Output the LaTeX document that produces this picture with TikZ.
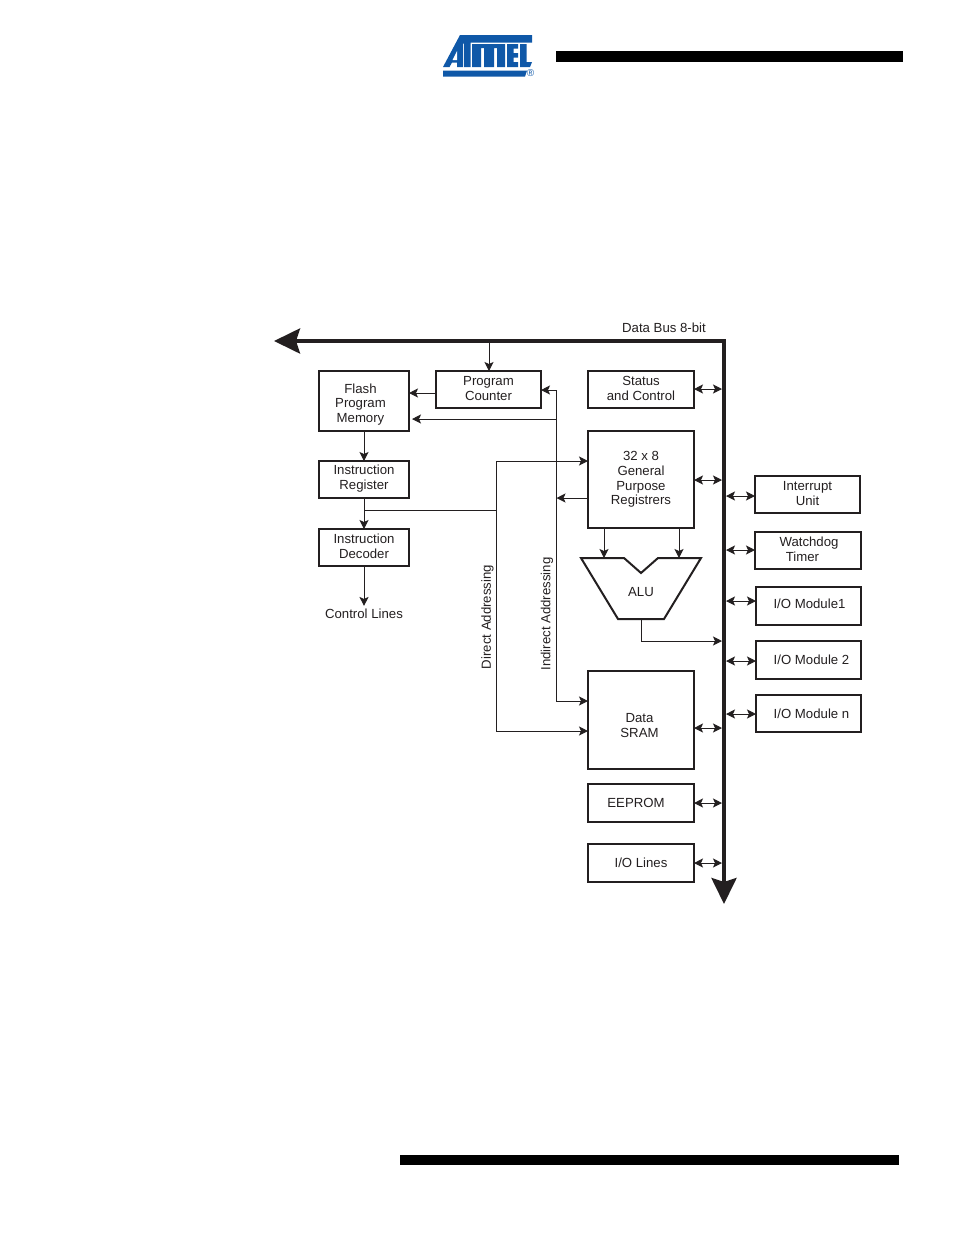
\documentclass[tikz,border=0pt]{standalone}
\usepackage{fontspec}
\setmainfont{Liberation Sans}
\usepackage{xcolor}
\usetikzlibrary{arrows.meta}
\definecolor{ink}{HTML}{231F20}
\definecolor{atmel}{HTML}{0F58A8}
\newcommand{\lift}[1]{\rule[-#1]{0pt}{0pt}}
\newcommand{\drop}[1]{\rule{0pt}{#1}}
\tikzset{
  box/.style={draw=ink, line width=2pt, outer sep=0pt, inner sep=0pt, align=center, text=ink, font=\fontsize{13.2}{14.7}\selectfont},
  lab/.style={text=ink, inner sep=0pt, align=center, font=\fontsize{13.2}{14.7}\selectfont},
  wire/.style={draw=ink, line width=1pt, -{Stealth[length=9pt,width=9pt,inset=2pt]}},
  both/.style={draw=ink, line width=1pt, {Stealth[length=9pt,width=9pt,inset=2pt]}-{Stealth[length=9pt,width=9pt,inset=2pt]}},
  plain/.style={draw=ink, line width=1pt},
  bus/.style={draw=ink, line width=4pt, -{Stealth[length=26pt,width=25pt,inset=4pt]}},
  logo/.style={fill=atmel, draw=none},
}
\begin{document}
\begin{tikzpicture}[x=1pt,y=-1pt]
\useasboundingbox (0,0) rectangle (954,1235);
% header and footer rules
\fill[black] (556,51) rectangle (903,62);
\fill[black] (400,1155) rectangle (899,1165);
% logo
\fill[logo] (460,35) -- (532,35) -- (532,42.5) -- (470.5,42.5) -- (470.5,67) -- (464,67) -- (464,43.5) -- (463,43.5) -- (463,67) -- (457,67) -- (457,62.5) -- (452,62.5) -- (449.5,67) -- (443,67) -- cycle;
\fill[white] (452.5,60) -- (457,60) -- (457,51) -- cycle;
\fill[logo] (472,44) -- (505,44) -- (505,67) -- (497,67) -- (497,48) -- (494,48) -- (494,67) -- (484,67) -- (484,48) -- (481,48) -- (481,67) -- (472,67) -- cycle;
\fill[logo] (507,44) -- (518,44) -- (518,48.5) -- (513.5,48.5) -- (513.5,53) -- (518,53) -- (518,57.5) -- (513.5,57.5) -- (513.5,62) -- (518,62) -- (518,67) -- (507,67) -- cycle;
\fill[logo] (520,44) -- (526.5,44) -- (526.5,62) -- (532,62) -- (530,67) -- (520,67) -- cycle;
\fill[logo] (443,70.5) -- (527,70.5) -- (525,76.5) -- (443,76.5) -- cycle;
\node[text=atmel, inner sep=0pt, font=\fontsize{10}{10}\selectfont] (regmark) at (530.5,73) {®};
% main bus
\draw[bus] (724,341) -- (274,341);
\draw[bus] (724,339) -- (724,904);
\node[lab] (buslab) at (664,328) {Data Bus 8-bit};
% left column
\node[box, minimum width=90pt, minimum height=60pt] (flash) at (364,401) {\drop{16.5pt}Flash\kern7pt\\Program\kern7pt\\Memory\kern7pt};
\node[box, minimum width=105pt, minimum height=37pt] (pc) at (488.5,389.5) {Program\\Counter\lift{2.2pt}};
\node[box, minimum width=90pt, minimum height=37pt] (ir) at (364,479.5) {Instruction\\Register\lift{4.8pt}};
\node[box, minimum width=90pt, minimum height=37pt] (decoder) at (364,547.5) {Instruction\\Decoder\lift{2.2pt}};
\node[lab] (ctrl) at (364,614) {Control Lines};
% middle column
\node[box, minimum width=106pt, minimum height=37pt] (status) at (641,389.5) {Status\\and Control\lift{2.2pt}};
\node[box, minimum width=106pt, minimum height=97pt] (gpr) at (641,479.5) {32 x 8\\General\\Purpose\\Registrers};
\draw[box, line join=miter] (581,558) -- (624,558) -- (641,573) -- (658,558) -- (701,558) -- (664,619) -- (618,619) -- cycle;
\node[lab] (alu) at (641,592) {ALU};
\node[box, minimum width=106pt, minimum height=98pt] (sram) at (641,720) {\drop{19.5pt}Data\kern3pt\\SRAM\kern3pt};
\node[box, minimum width=106pt, minimum height=38pt] (eeprom) at (641,803) {EEPROM\kern10pt};
\node[box, minimum width=106pt, minimum height=38pt] (iolines) at (641,863) {I/O Lines};
% right column
\node[box, minimum width=105pt, minimum height=37pt] (interrupt) at (807.5,494.5) {Interrupt\\Unit\lift{2.2pt}};
\node[box, minimum width=106pt, minimum height=37pt] (watchdog) at (808,550.5) {\kern2pt Watchdog\\Timer\kern11pt\lift{2.2pt}};
\node[box, minimum width=105pt, minimum height=38pt] (iomodA) at (808.5,606) {\kern2pt I/O Module1\lift{4pt}};
\node[box, minimum width=105pt, minimum height=38pt] (iomodB) at (808.5,660) {\kern6pt I/O Module 2};
\node[box, minimum width=105pt, minimum height=37pt] (iomodN) at (808.5,713.5) {\kern6pt I/O Module n};
% addressing labels
\node[lab, rotate=90] (direct) at (487.5,617) {Direct Addressing};
\node[lab, rotate=90] (indirect) at (547,614) {Indirect Addressing};
% junctions
\coordinate (pctap) at (489,341);
\coordinate (irtap) at (365,510);
\coordinate (dirtap) at (496.5,510);
\coordinate (dirtop) at (496.5,461);
\coordinate (dirbot) at (496.5,731);
\coordinate (indtop) at (556.5,390);
\coordinate (indbot) at (556.5,701);
\coordinate (indflash) at (556.5,419);
\coordinate (indgpr) at (556.5,498);
\coordinate (aluL) at (604,558);
\coordinate (aluR) at (679,558);
\coordinate (aluout) at (641,619);
\coordinate (alubus) at (722,641);
% control path
\draw[wire] (pctap) -- (pctap |- pc.north);
\draw[wire] ([yshift=-3.5pt]pc.west) -- ([yshift=-3.5pt]pc.west -| flash.east);
\draw[wire] (flash.south) -- (ir.north);
\draw[wire] (ir.south) -- (decoder.north);
\draw[wire] (decoder.south) -- ([yshift=3pt]ctrl.north);
\draw[plain] (irtap) -- (dirtap);
% direct addressing
\draw[wire] (dirbot) -- (dirtop) -- (dirtop -| gpr.west);
\draw[wire] (dirtop) -- (dirbot) -- (dirbot -| sram.west);
% indirect addressing
\draw[wire] (indbot) -- (indtop) -- (indtop -| pc.east);
\draw[wire] (indtop) -- (indbot) -- (indbot -| sram.west);
\draw[wire] (indflash) -- ([xshift=3pt]indflash -| flash.east);
\draw[wire] (indgpr -| gpr.west) -- (indgpr);
% alu
\draw[wire] (aluL |- gpr.south) -- (aluL);
\draw[wire] (aluR |- gpr.south) -- (aluR);
\draw[wire] (aluout) -- (aluout |- alubus) -- (alubus);
% bus taps
\coordinate (tapstatus) at (722,389);
\coordinate (tapgpr) at (722,480);
\coordinate (tapsram) at (722,728);
\coordinate (tapeeprom) at (722,803);
\coordinate (tapio) at (722,863);
\coordinate (tapint) at (726,496);
\coordinate (tapdog) at (726,550);
\coordinate (tapA) at (726,601);
\coordinate (tapB) at (726,661);
\coordinate (tapN) at (726,714);
\draw[both] (status.east |- tapstatus) -- (tapstatus);
\draw[both] (gpr.east |- tapgpr) -- (tapgpr);
\draw[both] (sram.east |- tapsram) -- (tapsram);
\draw[both] (eeprom.east |- tapeeprom) -- (tapeeprom);
\draw[both] (iolines.east |- tapio) -- (tapio);
\draw[both] (tapint) -- (tapint -| interrupt.west);
\draw[both] (tapdog) -- (tapdog -| watchdog.west);
\draw[both] (tapA) -- (tapA -| iomodA.west);
\draw[both] (tapB) -- (tapB -| iomodB.west);
\draw[both] (tapN) -- (tapN -| iomodN.west);
\end{tikzpicture}
\end{document}
